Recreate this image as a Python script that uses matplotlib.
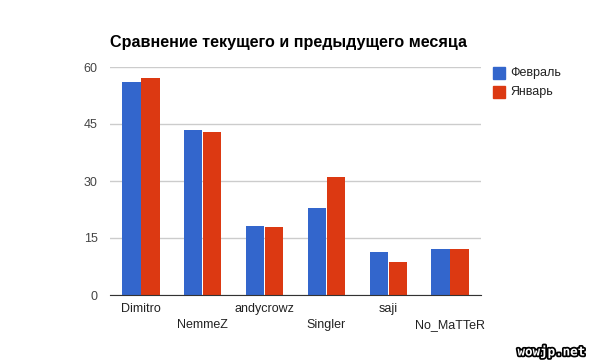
import numpy as np
import matplotlib
matplotlib.use('Agg')
import matplotlib.pyplot as plt
import matplotlib.patheffects as pe
from matplotlib.patches import Rectangle

plt.rcParams['font.family'] = ['Liberation Sans', 'DejaVu Sans']

# Chart data
names = ['Dimitro', 'NemmeZ', 'andycrowz', 'Singler', 'saji', 'No_MaTTeR']
feb = [56, 43.5, 18.2, 23, 11.3, 12]
jan = [57, 43, 18, 31, 8.7, 12]
series_labels = ['Февраль', 'Январь']
y_ticks = [0, 15, 30, 45, 60]

BLUE = '#3366CC'
RED = '#DC3912'

fig = plt.figure(figsize=(5.91, 3.64), dpi=100)
ax = fig.add_axes([110 / 591, 1 - 295 / 364, 371 / 591, 228 / 364])

x = np.arange(len(names))
w = 0.295
ax.bar(x - w / 2 - 0.006, feb, width=w, color=BLUE, zorder=3)
ax.bar(x + w / 2 + 0.006, jan, width=w, color=RED, zorder=3)

ax.set_xlim(-0.5, len(names) - 0.5)
ax.set_ylim(0, 60)
ax.set_yticks(y_ticks)
ax.set_yticklabels([str(t) for t in y_ticks])
ax.grid(axis='y', color='#CCCCCC', linewidth=1, zorder=0)
for s in ['top', 'right', 'left']:
    ax.spines[s].set_visible(False)
ax.spines['bottom'].set_color('#333333')
ax.spines['bottom'].set_zorder(4)
ax.tick_params(axis='y', length=0, pad=9, labelsize=9, labelcolor='#444444')
ax.set_xticks([])

# staggered category labels
for i, n in enumerate(names):
    ax.annotate(n, xy=(i, 0), xycoords='data', xytext=(0, -5.5 if i % 2 == 0 else -17),
                textcoords='offset points', ha='center', va='top',
                fontsize=9, color='#222222')

fig.text(110 / 591, 1 - 42 / 364, 'Сравнение текущего и предыдущего месяца',
         fontsize=11.6, fontweight='bold', color='#000000', va='center', ha='left')

# legend
for j, (lab, col) in enumerate(zip(series_labels, [BLUE, RED])):
    ytop = 67 + j * 18.5
    fig.patches.append(Rectangle((493 / 591, 1 - (ytop + 12) / 364), 12 / 591, 12 / 364,
                                 transform=fig.transFigure, color=col))
    fig.text(510 / 591, 1 - (ytop + 6) / 364, lab, fontsize=9, color='#222222',
             va='center', ha='left')

# watermark
fig.text(585 / 591, 1 - 352 / 364, 'wowjp.net', fontsize=9, fontweight='bold',
         color='white', ha='right', va='center', family='DejaVu Sans Mono',
         path_effects=[pe.withStroke(linewidth=2.5, foreground='black')])

fig.savefig('out.png', dpi=100)
